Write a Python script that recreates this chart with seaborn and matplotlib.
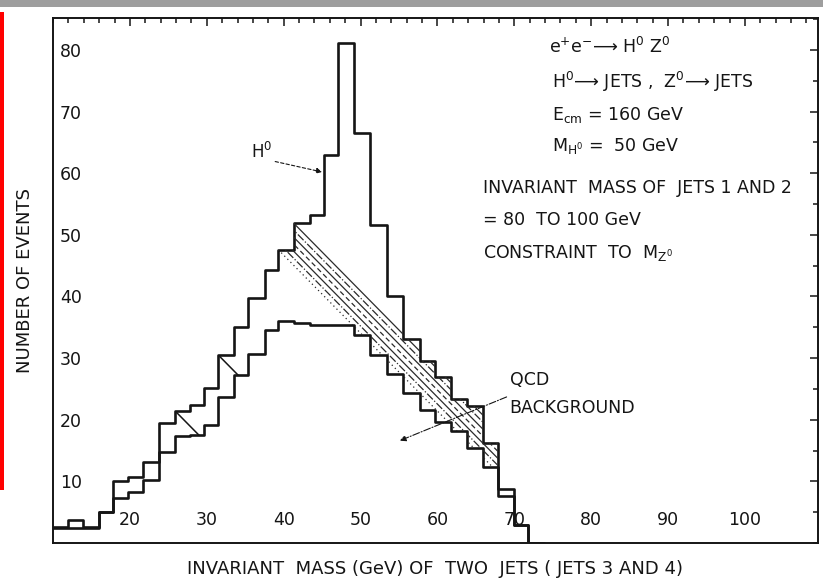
import numpy as np
import pandas as pd
import seaborn as sns
import matplotlib
matplotlib.use("Agg")
import matplotlib.pyplot as plt
from matplotlib.ticker import MultipleLocator, FixedLocator
from matplotlib.path import Path
from matplotlib.patches import PathPatch, Rectangle

# Bin edges (GeV) of the two-jet invariant mass histogram
mass_edges = [10.0, 12.0, 13.9, 16.0, 17.8, 19.8, 21.7, 23.8, 25.9, 27.8,
              29.6, 31.5, 33.5, 35.4, 37.6, 39.3, 41.3, 43.4, 45.2, 47.1,
              49.1, 51.2, 53.4, 55.5, 57.7, 59.7, 61.8, 63.9, 65.9, 67.9,
              70.0, 71.8, 73.8]
# Events per bin: H0 signal on top of QCD background
total_events = [2.6, 3.7, 2.6, 5.1, 10.1, 10.7, 13.2, 19.5, 21.4, 22.4,
                25.1, 30.5, 35.1, 39.7, 44.3, 47.6, 51.9, 53.2, 63.0, 81.1,
                66.6, 51.6, 40.0, 33.1, 29.6, 27.0, 23.3, 22.2, 16.2, 8.7,
                2.9, 0.0]
# Events per bin: QCD background alone
qcd_events = [2.5, 2.5, 2.5, 5.0, 7.3, 8.2, 10.2, 14.7, 17.3, 17.6,
              19.2, 23.7, 27.3, 30.7, 34.6, 36.1, 35.7, 35.4, 35.4, 35.4,
              33.8, 30.5, 27.5, 24.4, 21.6, 19.7, 18.1, 15.4, 12.4, 7.7,
              2.9, 0.0]
x_tick_values = [20, 30, 40, 50, 60, 70, 80, 90, 100]
y_tick_values = [10, 20, 30, 40, 50, 60, 70, 80]

sns.set_style("white")
plt.rcParams["font.family"] = ["DejaVu Sans"]
plt.rcParams["mathtext.fontset"] = "dejavusans"

ink = "#151515"
edges = np.array(mass_edges)
centres = 0.5 * (edges[:-1] + edges[1:])
hist_df = pd.DataFrame({"mass": centres, "total": total_events, "qcd": qcd_events})

fig = plt.figure(figsize=(8.23, 5.79), dpi=100)
ax = fig.add_axes([0.0644, 0.0622, 0.9295, 0.9068])

for col in ["total", "qcd"]:
    sns.histplot(data=hist_df, x="mass", weights=col, bins=mass_edges,
                 element="step", fill=False, color=ink, linewidth=1.9, ax=ax)

# Region between the two histograms, used to clip the hatching
xs = np.column_stack([edges[:-1], edges[1:]]).ravel()
up = np.repeat(total_events, 2)
lo = np.repeat(qcd_events, 2)
poly = np.concatenate([np.column_stack([xs, up]), np.column_stack([xs[::-1], lo[::-1]])])
band_patch = PathPatch(Path(poly, closed=True), transform=ax.transData,
                       facecolor="none", edgecolor="none")
ax.add_patch(band_patch)

# Diagonal hatch band running from the shoulder corners of the peak
i_a, i_b, i_end = 16, 15, 26
A = np.array([edges[i_a], total_events[i_a]])
B = np.array([edges[i_b], total_events[i_b]])
slope = (total_events[i_end] - total_events[i_a]) / (edges[i_end + 1] - edges[i_a])
styles = ["-", "-.", "-", (0, (4, 2.5)), "-", "-.", (0, (1, 2.5))]
for t, ls in zip(np.linspace(0, 1, len(styles)), styles):
    p = A + t * (B - A)
    hx = np.array([p[0] - 10, p[0] + 40])
    hy = p[1] + slope * (hx - p[0])
    ln, = ax.plot(hx, hy, color="#2a2a2a", lw=0.9, ls=ls)
    ln.set_clip_path(band_patch)

# Short strokes on the rising side
for k in (8, 11):
    hx = np.array([edges[k] - 5, edges[k] + 6])
    hy = total_events[k] + slope * (hx - edges[k])
    ln, = ax.plot(hx, hy, color=ink, lw=1.1)
    ln.set_clip_path(band_patch)

ax.set_xlim(10, 109.5)
ax.set_ylim(0, 85.2)

# Axes frame and inward ticks with labels inside the frame
for s in ax.spines.values():
    s.set_linewidth(1.4)
    s.set_color(ink)
ax.xaxis.set_major_locator(FixedLocator(x_tick_values))
ax.xaxis.set_minor_locator(MultipleLocator(2))
ax.yaxis.set_major_locator(FixedLocator(y_tick_values))
ax.yaxis.set_minor_locator(MultipleLocator(5))
ax.tick_params(which="both", direction="in", top=True, right=True,
               width=1.1, color=ink, labelcolor=ink)
ax.tick_params(which="major", length=6)
ax.tick_params(which="minor", length=3.5)
ax.tick_params(axis="x", which="major", pad=-10, labelsize=12.5)
ax.tick_params(axis="y", which="major", pad=-5, labelsize=12.5)
ax.set_xticklabels([str(v) for v in x_tick_values], va="bottom")
ax.set_yticklabels([str(v) for v in y_tick_values], ha="left")

ax.set_xlabel("INVARIANT  MASS (GeV) OF  TWO  JETS ( JETS 3 AND 4)",
              fontsize=13, color=ink)
ax.xaxis.set_label_coords(0.5, -0.049)
ax.xaxis.label.set_verticalalignment("center")
ax.set_ylabel("NUMBER OF EVENTS", fontsize=13, color=ink)
ax.yaxis.set_label_coords(-0.036, 0.5)
ax.yaxis.label.set_verticalalignment("center")

# Process description
tf = dict(transform=ax.transAxes, ha="left", va="center", fontsize=12.5, color=ink)
ax.text(0.648, 0.945, "e$^{+}$e$^{-}$\u27f6 H$^{0}$ Z$^{0}$", **tf)
ax.text(0.652, 0.878, "H$^{0}$\u27f6 JETS ,  Z$^{0}$\u27f6 JETS", **tf)
ax.text(0.652, 0.815, r"E$_{\mathrm{cm}}$ = 160 GeV", **tf)
ax.text(0.652, 0.756, r"M$_{\mathrm{H^0}}$ =  50 GeV", **tf)
ax.text(0.562, 0.676, "INVARIANT  MASS OF  JETS 1 AND 2", **tf)
ax.text(0.562, 0.615, "= 80  TO 100 GeV", **tf)
ax.text(0.562, 0.552, r"CONSTRAINT  TO  M$_{\mathrm{Z^0}}$", **tf)

# Curve labels
ax.text(37.2, 63.5, "H$^{0}$", fontsize=12, color=ink, ha="center", va="center")
ax.annotate("", xy=(45.0, 60.2), xytext=(38.9, 61.9),
            arrowprops=dict(arrowstyle="-|>", ls=(0, (3, 2)), lw=0.8,
                            color=ink, mutation_scale=8, shrinkA=0, shrinkB=0))
ax.text(69.4, 26.5, "QCD", fontsize=12.5, color=ink, ha="left", va="center")
ax.text(69.4, 21.9, "BACKGROUND", fontsize=12.5, color=ink, ha="left", va="center")
ax.annotate("", xy=(55.1, 16.6), xytext=(69.0, 23.7),
            arrowprops=dict(arrowstyle="-|>", ls="-.", lw=0.8,
                            color=ink, mutation_scale=9, shrinkA=0, shrinkB=0))

# Slide edge marks
fig.add_artist(Rectangle((0, 1 - 7 / 579), 1, 7 / 579, transform=fig.transFigure,
                         color="#9e9e9e", lw=0))
fig.add_artist(Rectangle((0, (579 - 490) / 579), 4 / 823, (490 - 12) / 579,
                         transform=fig.transFigure, color="#ff0000", lw=0))

fig.savefig("out.png", dpi=100)
